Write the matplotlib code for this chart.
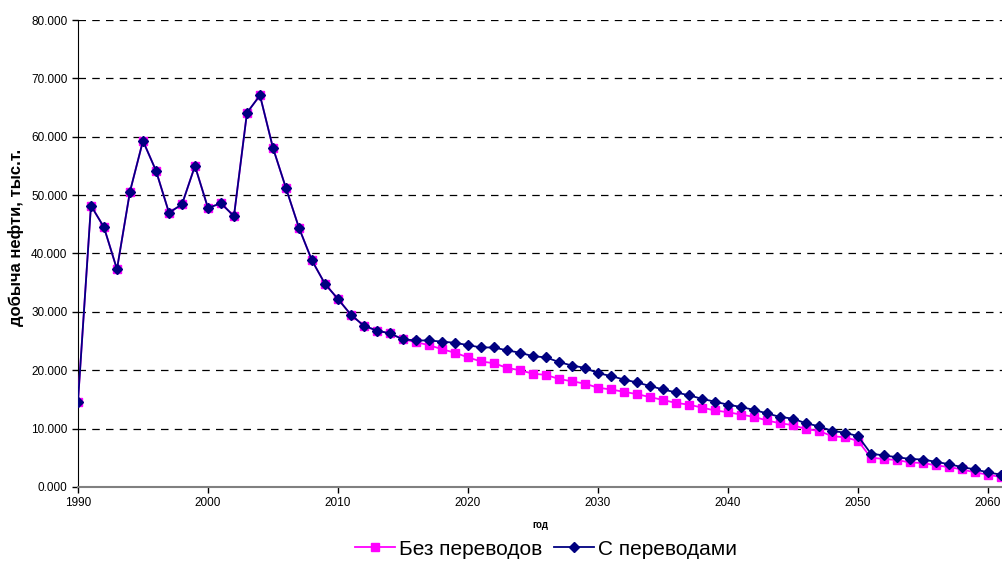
import matplotlib
matplotlib.use("Agg")
import matplotlib.pyplot as plt

plt.rcParams['font.family'] = ['Liberation Sans', 'DejaVu Sans']

years = list(range(1990, 2062))

# добыча без переводов, тыс.т.
bez = [14.6, 48.2, 44.5, 37.3, 50.6, 59.3, 54.2, 47.0, 48.4, 55.0,
       47.8, 48.6, 46.4, 64.1, 67.1, 58.1, 51.2, 44.4, 38.8, 34.8,
       32.2, 29.5, 27.6, 26.8, 26.3, 25.3, 24.8, 24.3, 23.6, 23.0,
       22.2, 21.5, 21.2, 20.4, 20.0, 19.4, 19.2, 18.5, 18.1, 17.7,
       17.0, 16.7, 16.3, 15.9, 15.4, 14.9, 14.4, 14.1, 13.6, 13.1,
       12.8, 12.4, 12.0, 11.4, 10.9, 10.6, 9.9, 9.6, 8.7, 8.5,
       7.9, 5.0, 4.8, 4.6, 4.2, 4.1, 3.7, 3.4, 3.0, 2.5,
       2.1, 1.7]

# добыча с переводами, тыс.т.
s_per = [14.6, 48.2, 44.5, 37.3, 50.6, 59.3, 54.2, 47.0, 48.4, 55.0,
         47.8, 48.6, 46.4, 64.1, 67.1, 58.1, 51.2, 44.4, 38.8, 34.8,
         32.2, 29.5, 27.6, 26.8, 26.3, 25.3, 25.1, 25.1, 24.9, 24.7,
         24.3, 23.9, 23.9, 23.4, 23.0, 22.4, 22.2, 21.4, 20.8, 20.4,
         19.5, 19.0, 18.4, 17.9, 17.3, 16.7, 16.2, 15.7, 15.1, 14.6,
         14.1, 13.7, 13.2, 12.6, 12.0, 11.7, 10.9, 10.4, 9.6, 9.3,
         8.7, 5.7, 5.4, 5.1, 4.8, 4.7, 4.3, 3.9, 3.4, 3.0,
         2.5, 2.1]

yticks = [0, 10, 20, 30, 40, 50, 60, 70, 80]
xticks = [1990, 2000, 2010, 2020, 2030, 2040, 2050, 2060]

fig = plt.figure(figsize=(10.02, 5.61), dpi=100)
ax = fig.add_axes([0.0778, 0.132, 0.9225, 0.8323])

ax.plot(years, bez, '-s', color='#FF00FF', markersize=5.5, linewidth=1.3,
        label='Без переводов', zorder=3)
ax.plot(years, s_per, '-D', color='#000080', markersize=5, linewidth=1.3,
        label='С переводами', zorder=4)

ax.set_xlim(1990, 2061.1)
ax.set_ylim(0, 80)
ax.set_yticks(yticks)
ax.set_yticklabels(['%.3f' % v for v in yticks])
ax.set_xticks(xticks)
ax.tick_params(labelsize=8.5, direction='out', length=4, width=1)
ax.grid(True, axis='y', linestyle=(0, (6, 5)), color='black', linewidth=0.9)
ax.set_axisbelow(True)

ax.spines['top'].set_visible(False)
ax.spines['right'].set_visible(False)
ax.spines['left'].set_color('black')
ax.spines['bottom'].set_color('#808080')
ax.spines['bottom'].set_linewidth(1.5)

ax.set_ylabel('добыча нефти, тыс.т.', fontsize=12, fontweight='bold')
ax.yaxis.set_label_coords(-0.058, 0.535)
ax.set_xlabel('год', fontsize=7, fontweight='bold', labelpad=8)

leg = fig.legend(loc='lower center', bbox_to_anchor=(0.545, -0.018), ncol=2,
                 frameon=False, fontsize=15, handlelength=1.9,
                 handletextpad=0.2, columnspacing=0.6, borderaxespad=0.2)

fig.savefig('out.png', dpi=100)
